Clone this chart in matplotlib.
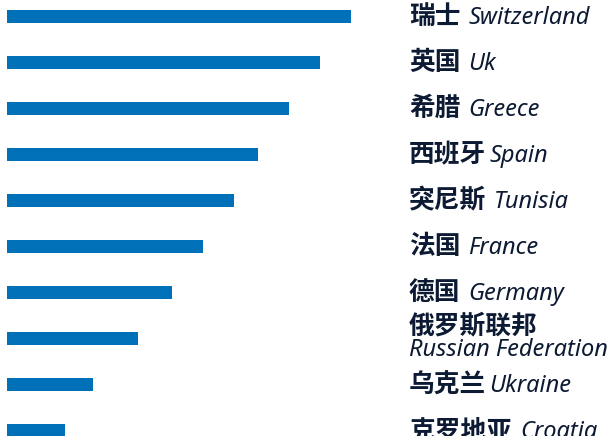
import matplotlib
matplotlib.use("Agg")
import matplotlib.pyplot as plt

# Bar lengths (relative, longest = 100).
countries = [
    "瑞士 Switzerland",
    "英国 Uk",
    "希腊 Greece",
    "西班牙Spain",
    "突尼斯 Tunisia",
    "法国 France",
    "德国 Germany",
    "俄罗斯联邦\nRussian Federation",
    "乌克兰Ukraine",
    "克罗地亚 Croatia",
]
values = [100, 91, 82, 73, 66, 57, 48, 38, 25, 17]

BAR_COLOR = "#0070b9"
TEXT_COLOR = "#0c1a33"
CN_FONT = ["Noto Sans CJK SC", "DejaVu Sans"]
EN_FONT = ["Noto Sans", "DejaVu Sans"]
CN_SIZE = 18.5
EN_SIZE = 17


def split_label(label):
    """Split a label into its Chinese part, English part and separator."""
    if "\n" in label:
        cn, en = label.split("\n")
        return cn, en, "\n"
    for i, ch in enumerate(label):
        if ch.isascii() and ch.isalpha():
            cn = label[:i]
            return cn.strip(), label[i:], " " if cn.endswith(" ") else ""
    return label, "", ""


def plot():
    fig = plt.figure(figsize=(6.08, 4.36), dpi=100)
    fig.patch.set_facecolor("white")
    ax = fig.add_axes([0, 0, 1, 1])

    y = list(range(len(values)))
    ax.barh(y, values, height=0.283, color=BAR_COLOR)

    # pixel-ish layout: bars start 7px from the left, 3.44 px per unit
    ax.set_xlim(-7 / 3.44, (608 - 7) / 3.44)
    ax.set_ylim(9.12, -0.359)
    ax.axis("off")

    label_x = 409 / 608
    trans = matplotlib.transforms.blended_transform_factory(ax.transAxes, ax.transData)

    for yi, label in zip(y, countries):
        cn, en, sep = split_label(label)
        if sep == "\n":
            ax.annotate(
                cn, xy=(label_x, yi), xycoords=trans,
                xytext=(0, 3.6), textcoords="offset points",
                ha="left", va="baseline", fontsize=CN_SIZE, fontweight="bold",
                family=CN_FONT, color=TEXT_COLOR,
            )
            ax.annotate(
                en, xy=(label_x, yi), xycoords=trans,
                xytext=(0, -12.4), textcoords="offset points",
                ha="left", va="baseline", fontsize=EN_SIZE, style="italic",
                family=EN_FONT, color=TEXT_COLOR,
            )
            continue
        cn_text = ax.annotate(
            cn, xy=(label_x, yi), xycoords=trans,
            xytext=(0, -5.6), textcoords="offset points",
            ha="left", va="baseline", fontsize=CN_SIZE, fontweight="bold",
            family=CN_FONT, color=TEXT_COLOR,
        )
        gap = 8 if sep == " " else 3
        ax.annotate(
            en, xy=(1, yi), xycoords=(cn_text, trans),
            xytext=(gap * 0.72, -5.6), textcoords="offset points",
            ha="left", va="baseline", fontsize=EN_SIZE, style="italic",
            family=EN_FONT, color=TEXT_COLOR,
        )

    fig.savefig("out.png", dpi=100)


if __name__ == "__main__":
    plot()
